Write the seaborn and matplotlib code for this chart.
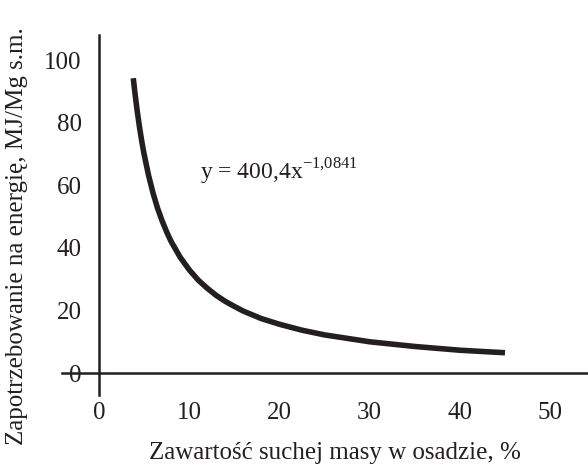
import matplotlib
matplotlib.use("Agg")
import matplotlib.pyplot as plt
import seaborn as sns
import pandas as pd

# values
dry_matter = [3.8, 4.0, 4.25, 4.5, 4.75, 5.0, 5.5, 6.0, 6.5, 7.0, 7.5, 8.0, 9.0, 10.0,
              11.0, 12.0, 13.0, 14.0, 15.0, 16.0, 18.0, 20.0, 22.5, 25.0, 30.0, 35.0,
              40.0, 45.0]
energy = [94.2, 89.1, 83.4, 78.4, 73.9, 69.9, 63.1, 57.4, 52.6, 48.6, 45.1, 42.0, 37.0, 33.0,
          29.7, 27.1, 24.8, 22.9, 21.3, 19.8, 17.4, 15.6, 13.7, 12.2, 10.0, 8.5,
          7.3, 6.5]
x_ticks = [0, 10, 20, 30, 40, 50]
y_ticks = [0, 20, 40, 60, 80, 100]
equation = "y = 400,4x$^{\\mathregular{−1{,}0841}}$"
x_label = "Zawartość suchej masy w osadzie, %"
y_label = "Zapotrzebowanie na energię, MJ/Mg s.m."

sns.set_style("white")
plt.rcParams['font.family'] = ['Liberation Serif', 'DejaVu Serif']
plt.rcParams['mathtext.fontset'] = 'custom'
plt.rcParams['mathtext.rm'] = 'Liberation Serif'

ink = '#231f20'
df = pd.DataFrame({"x": dry_matter, "y": energy})

fig = plt.figure(figsize=(5.88, 4.66), dpi=100)
ax = fig.add_axes([62/588, 1-395/466, 526/588, 360/466])
sns.lineplot(data=df, x="x", y="y", ax=ax, color=ink, linewidth=4.0, sort=True,
             solid_joinstyle='round', solid_capstyle='butt')

ax.set_xlim(-4.1, 54.2)
ax.set_ylim(-7.0, 108.0)
for s in ['top', 'right']:
    ax.spines[s].set_visible(False)
ax.spines['left'].set_position(('data', 0))
ax.spines['bottom'].set_position(('data', 0))
for s in ['left', 'bottom']:
    ax.spines[s].set_linewidth(1.8)
    ax.spines[s].set_color(ink)

ax.set_xticks(x_ticks)
ax.set_yticks(y_ticks)
ax.tick_params(axis='x', direction='in', length=6, width=1.5, color=ink,
               pad=21, labelsize=18, labelcolor=ink)
ax.tick_params(axis='y', direction='out', length=6.5, width=1.5, color=ink,
               pad=6, labelsize=18, labelcolor=ink)

ax.set_xlabel(x_label, fontsize=18, color=ink)
ax.set_ylabel(y_label, fontsize=18, color=ink)
ax.xaxis.set_label_coords(0.519, -0.13)
ax.yaxis.set_label_coords(-0.064, 0.44)

ax.text(11.2, 61.7, equation, fontsize=17, color=ink, ha='left', va='baseline')

fig.savefig("out.png", dpi=100)
